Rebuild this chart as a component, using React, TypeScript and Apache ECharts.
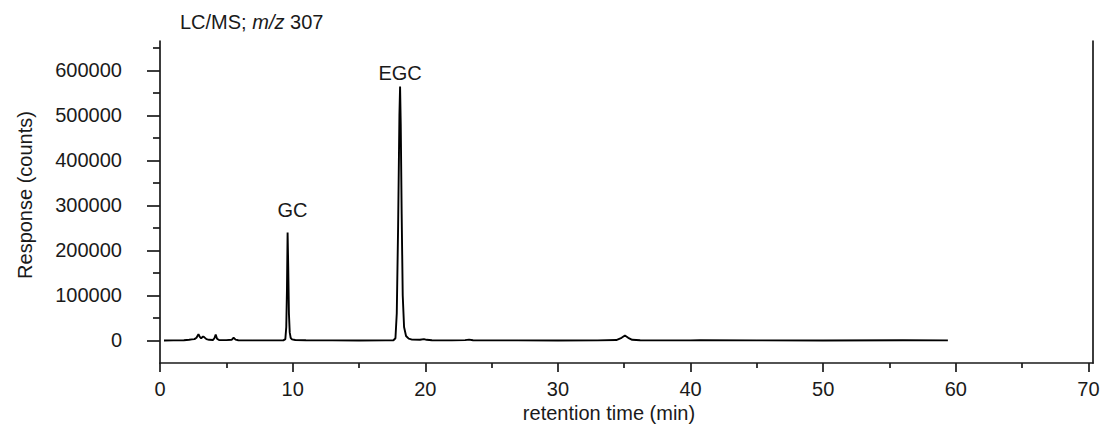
import React, { useEffect, useRef } from "react";
import * as echarts from "echarts";

// Chromatogram (retention time in min, response in counts)
const times = [
  0.3, 1.0, 1.8, 2.2, 2.4, 2.6, 2.75, 2.9, 3.0, 3.1, 3.25, 3.35, 3.5, 3.7, 4.0, 4.1, 4.2, 4.3, 4.45,
  5.0, 5.4, 5.55, 5.7, 5.9, 7.0, 8.5, 9.3, 9.45, 9.52, 9.57, 9.62, 9.67, 9.72, 9.78, 9.85, 9.95,
  10.2, 11.0, 13.0, 15.0, 17.0, 17.6, 17.75, 17.85, 17.95, 18.05, 18.1, 18.15, 18.22, 18.3, 18.4,
  18.55, 18.75, 19.0, 19.6, 19.9, 20.1, 20.5, 22.0, 23.0, 23.3, 23.6, 27.0, 30.0, 33.0, 34.4,
  34.8, 35.05, 35.3, 35.6, 36.2, 40.0, 40.7, 45.0, 50.0, 56.0, 59.4,
];
const responses = [
  0, 200, 500, 1500, 2500, 3000, 6000, 14000, 8000, 5000, 9000, 7000, 3000, 1500, 1200, 5000, 13000, 4000, 1000,
  800, 1500, 6000, 2000, 500, 300, 200, 300, 3000, 30000, 110000, 240000, 160000, 60000, 18000, 6000, 2500,
  1000, 400, 200, 100, 200, 500, 5000, 60000, 250000, 500000, 564000, 480000, 280000, 100000, 30000,
  10000, 4000, 2000, 1500, 3000, 1500, 600, 300, 800, 1800, 500, 200, 100, 300, 1000,
  6000, 11000, 6000, 1500, 400, 200, 600, 200, 100, 400, 200,
];

const peakNames = ["GC", "EGC"];
const peakLabelTimes = [9.98, 18.1];
const peakLabelResponses = [290000, 595000];

const xMajorTicks = [0, 10, 20, 30, 40, 50, 60, 70];
const xMinorTicks = [5, 15, 25, 35, 45, 55, 65];
const yMajorTicks = [0, 100000, 200000, 300000, 400000, 500000, 600000];
const yMinorTicks = [50000, 150000, 250000, 350000, 450000, 550000, 650000];

const X_MIN = 0;
const X_MAX = 70.34;
const Y_MIN = -50000;
const Y_MAX = 665000;

const FONT = "'Liberation Sans', Arial, Helvetica, sans-serif";
const FS = 20;
const TEXT = "#1a1a1a";
const AXIS = "#1a1a1a";

export default function App() {
  const ref = useRef<HTMLDivElement>(null);

  useEffect(() => {
    if (!ref.current) return;
    const chart = echarts.init(ref.current, undefined, { renderer: "svg" });
    const lineData = times.map((t, i) => [t, responses[i]]);
    const labelData = peakNames.map((n, i) => ({
      name: n,
      value: [peakLabelTimes[i], peakLabelResponses[i]],
    }));
    const gridBox = { left: 160, top: 41, width: 933, height: 322 };
    const axisLineStyle = { color: AXIS, width: 1.7 };
    const plain = (v: number) => String(v);

    chart.setOption({
      animation: false,
      backgroundColor: "#fff",
      textStyle: { fontFamily: FONT },
      grid: [gridBox, { ...gridBox }],
      xAxis: [
        {
          gridIndex: 0,
          type: "value",
          min: X_MIN,
          max: X_MAX,
          axisLine: { show: true, onZero: false, lineStyle: axisLineStyle },
          axisTick: { show: true, customValues: xMajorTicks, length: 9, lineStyle: axisLineStyle },
          axisLabel: { customValues: xMajorTicks, formatter: plain, margin: 16, fontSize: FS, color: TEXT, fontFamily: FONT },
          splitLine: { show: false },
        },
        {
          gridIndex: 1,
          type: "value",
          min: X_MIN,
          max: X_MAX,
          axisLine: { show: false, onZero: false },
          axisTick: { show: true, customValues: xMinorTicks, length: 5, lineStyle: axisLineStyle },
          axisLabel: { show: false },
          splitLine: { show: false },
        },
      ],
      yAxis: [
        {
          gridIndex: 0,
          type: "value",
          position: "left",
          min: Y_MIN,
          max: Y_MAX,
          axisLine: { show: true, onZero: false, lineStyle: axisLineStyle },
          axisTick: { show: true, customValues: yMajorTicks, length: 13, lineStyle: axisLineStyle },
          axisLabel: { customValues: yMajorTicks, formatter: plain, margin: 38, fontSize: FS, color: TEXT, fontFamily: FONT },
          splitLine: { show: false },
        },
        {
          gridIndex: 1,
          type: "value",
          position: "left",
          min: Y_MIN,
          max: Y_MAX,
          axisLine: { show: false, onZero: false },
          axisTick: { show: true, customValues: yMinorTicks, length: 7, lineStyle: axisLineStyle },
          axisLabel: { show: false },
          splitLine: { show: false },
        },
        {
          gridIndex: 1,
          type: "value",
          position: "right",
          min: Y_MIN,
          max: Y_MAX,
          axisLine: { show: true, onZero: false, lineStyle: axisLineStyle },
          axisTick: { show: false },
          axisLabel: { show: false },
          splitLine: { show: false },
        },
      ],
      series: [
        {
          type: "line",
          xAxisIndex: 0,
          yAxisIndex: 0,
          data: lineData,
          showSymbol: false,
          symbol: "none",
          lineStyle: { color: "#000", width: 1.9 },
          z: 3,
        },
        {
          type: "scatter",
          xAxisIndex: 0,
          yAxisIndex: 0,
          data: labelData,
          symbolSize: 1,
          itemStyle: { color: "rgba(0,0,0,0)", opacity: 1 },
          label: {
            show: true,
            position: "inside",
            formatter: "{b}",
            fontSize: FS,
            color: TEXT,
            opacity: 1,
            fontFamily: FONT,
          },
          emphasis: { disabled: true },
          z: 4,
        },
      ],
      graphic: [
        {
          type: "text",
          x: 180,
          y: 22,
          style: {
            text: "{n|LC/MS; }{i|m/z}{n| 307}",
            verticalAlign: "middle",
            align: "left",
            rich: {
              n: { fontSize: FS, fontFamily: FONT, fill: TEXT },
              i: { fontSize: FS, fontFamily: FONT, fontStyle: "italic", fill: TEXT },
            },
          },
        },
        {
          type: "text",
          x: 609,
          y: 413,
          style: {
            text: "retention time (min)",
            align: "center",
            verticalAlign: "middle",
            fontSize: FS,
            fontFamily: FONT,
            fill: TEXT,
          },
        },
        {
          type: "text",
          x: 25,
          y: 195,
          rotation: Math.PI / 2,
          style: {
            text: "Response (counts)",
            align: "center",
            verticalAlign: "middle",
            fontSize: FS,
            fontFamily: FONT,
            fill: TEXT,
          },
        },
      ],
    });
    return () => chart.dispose();
  }, []);

  return (
    <div
      ref={ref}
      style={{ position: "fixed", left: 0, top: 0, width: 1107, height: 428, background: "#fff" }}
    />
  );
}
